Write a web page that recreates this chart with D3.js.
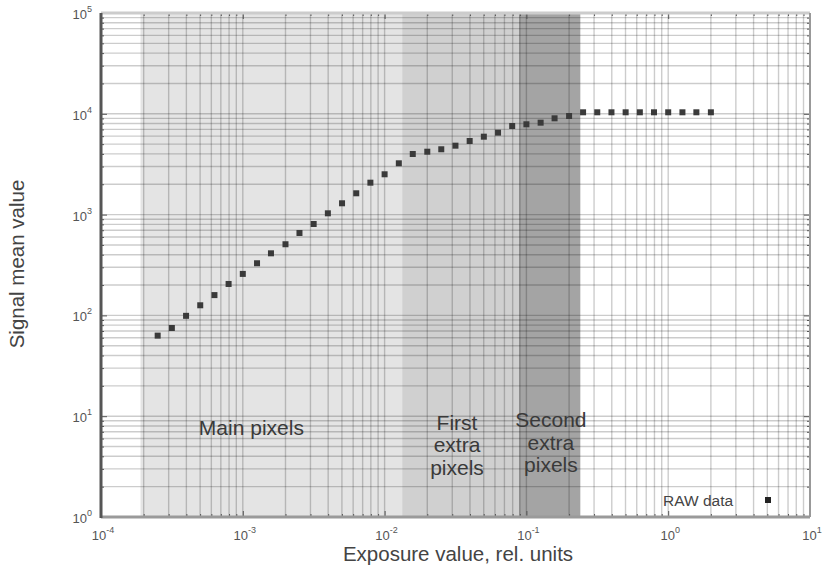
<!DOCTYPE html>
<html><head><meta charset="utf-8">
<script src="https://cdn.jsdelivr.net/npm/d3@7/dist/d3.min.js"></script>
<style>body{margin:0;background:#fff}svg{display:block}text{font-family:"Liberation Sans",Arial,Helvetica,sans-serif}</style>
</head><body><svg id="c" width="830" height="569"></svg>
<script>
// ---- data ----
const exposure = [0.000251,0.000316,0.000398,0.000501,0.000631,0.000794,0.001,0.00126,0.00158,0.002,
  0.00251,0.00316,0.00398,0.00501,0.00631,0.00794,0.01,0.0126,0.0158,0.02,
  0.0251,0.0316,0.0398,0.0501,0.0631,0.0794,0.1,0.126,0.158,0.2,
  0.251,0.316,0.398,0.501,0.631,0.794,1.0,1.26,1.58,2.0];
const signal = [63,75,99,126,159,205,258,329,413,508,
  657,807,1030,1295,1627,2073,2512,3228,3993,4207,
  4447,4828,5372,5929,6500,7568,7870,8165,9020,9510,
  10350,10350,10350,10350,10350,10350,10350,10350,10350,10350];
const xTickExp = [-4,-3,-2,-1,0,1];
const yTickExp = [0,1,2,3,4,5];
const regionNames = ["Main pixels","First extra pixels","Second extra pixels"];
const regionStart = [0.00019,0.0133,0.0887];
const regionEnd   = [0.0133,0.0887,0.24];
const regionLabelX = [0.00049,0.0324,0.149];
const regionLabelY = [6.5,7.3,7.8];
const xLabel = "Exposure value, rel. units";
const yLabel = "Signal mean value";
const legendLabel = "RAW data";

// ---- drawing ----
const svg = d3.select("#c");
const L=101,R=810,T=13,B=517;
const x = d3.scaleLog().domain([1e-4,1e1]).range([L,R]);
const y = d3.scaleLog().domain([1,1e5]).range([B,T]);
const regionFill = ["#e4e4e4","#d0d0d0","#a4a4a4"];

svg.append("g").selectAll("rect").data(regionNames).join("rect")
  .attr("x",(d,i)=>x(regionStart[i])).attr("width",(d,i)=>x(regionEnd[i])-x(regionStart[i]))
  .attr("y",T).attr("height",B-T).attr("fill",(d,i)=>regionFill[i]);

// grid (major + minor)
const xMajor = xTickExp.map(e=>Math.pow(10,e));
const yMajor = yTickExp.map(e=>Math.pow(10,e));
const xMinor=[], yMinor=[];
xTickExp.slice(0,-1).forEach(e=>{for(let m=2;m<10;m++) xMinor.push(m*Math.pow(10,e));});
yTickExp.slice(0,-1).forEach(e=>{for(let m=2;m<10;m++) yMinor.push(m*Math.pow(10,e));});
const grid = svg.append("g").attr("stroke","#000").attr("stroke-opacity",0.2).attr("stroke-width",1.4);
grid.selectAll(".vx").data(xMinor.concat(xMajor)).join("line")
  .attr("x1",d=>x(d)).attr("x2",d=>x(d)).attr("y1",T).attr("y2",B);
grid.selectAll(".hy").data(yMinor.concat(yMajor)).join("line")
  .attr("y1",d=>y(d)).attr("y2",d=>y(d)).attr("x1",L).attr("x2",R);

// axes with inward ticks
const fmtNone = ()=>"";
function axisG(axis, tr){ return svg.append("g").attr("transform",tr).call(axis)
  .call(g=>g.select(".domain").remove()).call(g=>g.selectAll(".tick line").attr("stroke","#555")); }
axisG(d3.axisBottom(x).tickValues(xMajor).tickSize(-6).tickFormat(fmtNone),`translate(0,${B})`);
axisG(d3.axisBottom(x).tickValues(xMinor).tickSize(-3).tickFormat(fmtNone),`translate(0,${B})`);
axisG(d3.axisTop(x).tickValues(xMajor).tickSize(-6).tickFormat(fmtNone),`translate(0,${T})`);
axisG(d3.axisTop(x).tickValues(xMinor).tickSize(-3).tickFormat(fmtNone),`translate(0,${T})`);
axisG(d3.axisLeft(y).tickValues(yMajor).tickSize(-6).tickFormat(fmtNone),`translate(${L},0)`);
axisG(d3.axisLeft(y).tickValues(yMinor).tickSize(-3).tickFormat(fmtNone),`translate(${L},0)`);
axisG(d3.axisRight(y).tickValues(yMajor).tickSize(-6).tickFormat(fmtNone),`translate(${R},0)`);
axisG(d3.axisRight(y).tickValues(yMinor).tickSize(-3).tickFormat(fmtNone),`translate(${R},0)`);

// box
svg.append("line").attr("x1",L).attr("x2",R).attr("y1",T).attr("y2",T).attr("stroke","#ccc").attr("stroke-width",3);
svg.append("line").attr("x1",R).attr("x2",R).attr("y1",T).attr("y2",B).attr("stroke","#999").attr("stroke-width",2);
svg.append("line").attr("x1",L).attr("x2",R).attr("y1",B).attr("y2",B).attr("stroke","#9a9a9a").attr("stroke-width",3);
svg.append("line").attr("x1",L).attr("x2",L).attr("y1",T).attr("y2",B+1).attr("stroke","#555").attr("stroke-width",3);

// tick labels
const xl = svg.append("g").attr("fill","#555").selectAll("text").data(xTickExp).join("text")
  .attr("x",d=>x(Math.pow(10,d))+2).attr("y",540).attr("text-anchor","middle").attr("font-size",13);
xl.append("tspan").text("10");
xl.append("tspan").attr("dy",-7).attr("font-size",9).text(d=>String(d));
const yl = svg.append("g").attr("fill","#555").selectAll("text").data(yTickExp).join("text")
  .attr("x",92).attr("y",d=>y(Math.pow(10,d))+6).attr("text-anchor","end").attr("font-size",13);
yl.append("tspan").text("10");
yl.append("tspan").attr("dy",-7).attr("font-size",9).text(d=>String(d));

// axis labels
svg.append("text").attr("x",458).attr("y",561).attr("text-anchor","middle").attr("font-size",20.5).attr("fill","#444").text(xLabel);
svg.append("text").attr("transform","translate(24,264) rotate(-90)").attr("text-anchor","middle").attr("font-size",20.5).attr("fill","#444").text(yLabel);

// region annotations
const ann = svg.append("g").attr("fill","#3a3a3a").attr("font-size",21);
ann.append("text").attr("x",x(regionLabelX[0])).attr("y",y(regionLabelY[0])).text(regionNames[0]);
[1,2].forEach(i=>{
  const words = regionNames[i].split(" ");
  const t = ann.append("text").attr("text-anchor","middle");
  words.forEach((w,j)=>t.append("tspan").attr("x",x(regionLabelX[i])).attr("y",y(regionLabelY[i])+j*22.5).text(w));
});

// data markers
const ms=6;
svg.append("g").attr("fill","#3a3a3a").selectAll("rect").data(exposure).join("rect")
  .attr("x",(d,i)=>x(d)-ms/2).attr("y",(d,i)=>y(signal[i])-ms/2).attr("width",ms).attr("height",ms);

// legend
svg.append("text").attr("x",663).attr("y",506).attr("font-size",15.5).attr("fill","#444").text(legendLabel);
svg.append("rect").attr("x",765).attr("y",497).attr("width",ms).attr("height",ms).attr("fill","#222");
</script></body></html>
